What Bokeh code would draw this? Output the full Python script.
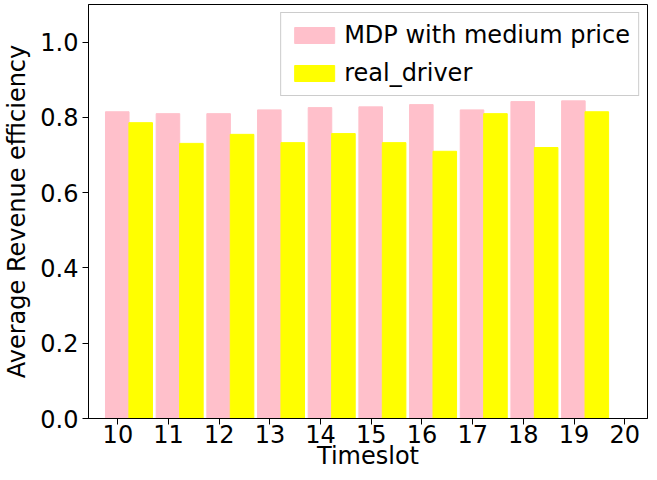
from bokeh.plotting import figure
from bokeh.models import Legend, LegendItem, FixedTicker, Range1d, PrintfTickFormatter
from bokeh.embed import file_html
from bokeh.resources import INLINE

timeslots = [10, 11, 12, 13, 14, 15, 16, 17, 18, 19]
mdp_medium = [0.815, 0.810, 0.810, 0.820, 0.826, 0.828, 0.834, 0.820, 0.842, 0.844]
real_driver = [0.786, 0.731, 0.755, 0.733, 0.757, 0.733, 0.710, 0.810, 0.720, 0.815]
x_ticks = [10, 11, 12, 13, 14, 15, 16, 17, 18, 19, 20]
y_ticks = [0.0, 0.2, 0.4, 0.6, 0.8, 1.0]

p = figure(width=649, height=472, output_backend="svg", toolbar_location=None,
           x_range=Range1d(9.42, 20.45), y_range=Range1d(0, 1.1),
           min_border_left=78, min_border_bottom=40, min_border_top=4, min_border_right=2)

mx = [t - 0.0125 for t in timeslots]
rx = [t + 0.45 for t in timeslots]
r1 = p.vbar(x=mx, top=mdp_medium, width=0.465, color="pink")
r2 = p.vbar(x=rx, top=real_driver, width=0.465, color="yellow")

p.grid.visible = False
p.outline_line_color = "black"
p.xaxis.ticker = FixedTicker(ticks=x_ticks)
p.yaxis.ticker = FixedTicker(ticks=y_ticks)
p.yaxis.formatter = PrintfTickFormatter(format="%.1f")
for ax in (p.xaxis, p.yaxis):
    ax.major_label_text_font_size = "24px"
    ax.axis_label_text_font_size = "24px"
    ax.axis_label_text_font_style = "normal"
    ax.major_label_text_font = "DejaVu Sans"
    ax.axis_label_text_font = "DejaVu Sans"
    ax.major_label_text_color = "black"
    ax.axis_label_text_color = "black"
    ax.axis_line_color = "black"
    ax.major_tick_line_color = "black"
    ax.minor_tick_line_color = None
    ax.major_tick_out = 6
    ax.major_tick_in = 0
    ax.major_label_standoff = 4
p.xaxis.axis_label = "Timeslot"
p.yaxis.axis_label = "Average Revenue efficiency"
p.xaxis.major_label_standoff = 0
p.xaxis.axis_label_standoff = -4
p.yaxis.axis_label_standoff = 6

legend = Legend(items=[LegendItem(label="MDP with medium price", renderers=[r1]),
                       LegendItem(label="real_driver", renderers=[r2])],
                location="top_right", label_text_font_size="24px",
                label_text_font="DejaVu Sans", label_text_color="black",
                glyph_width=50, glyph_height=20,
                border_line_color="#cccccc", border_line_alpha=1, spacing=10,
                margin=8, padding=8)
p.add_layout(legend)

open("out.html", "w").write(file_html(p, INLINE))
